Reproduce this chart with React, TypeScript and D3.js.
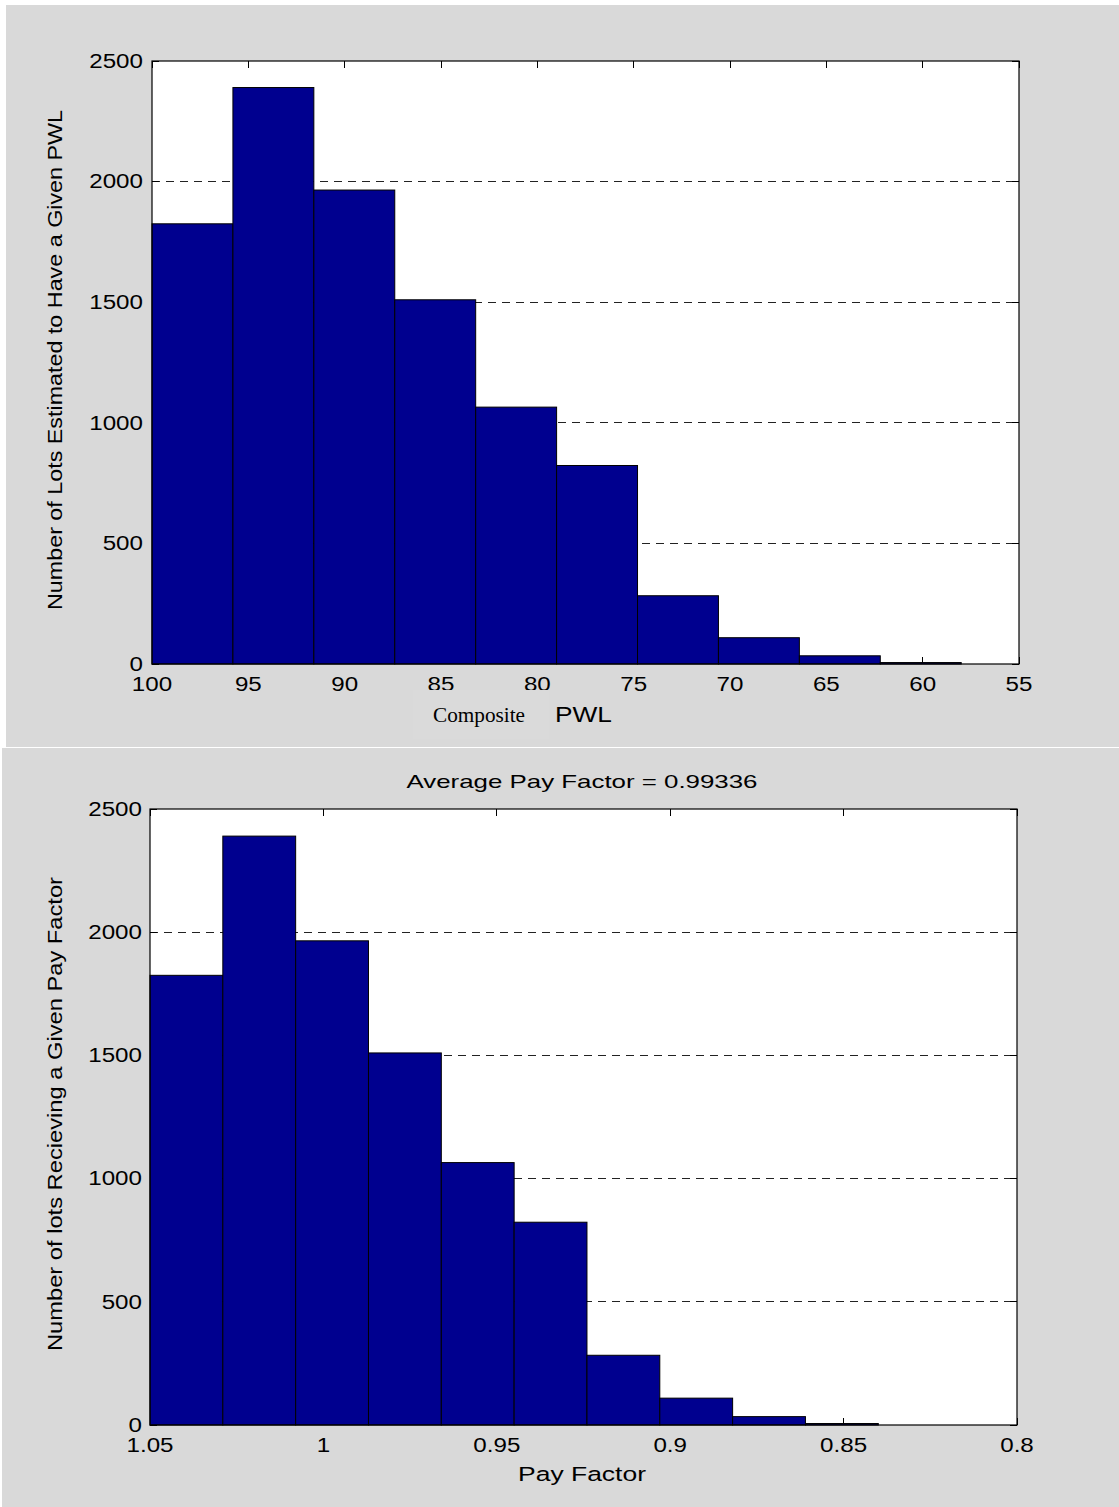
import React from "react";
import * as d3 from "d3";

// Histogram bin edges (left to right as drawn) and lot counts per bin
const pwlBinEdges = [100, 95.8, 91.6, 87.4, 83.2, 79.0, 74.8, 70.6, 66.4, 62.2, 58.0];
const payBinEdges = [1.05, 1.029, 1.008, 0.987, 0.966, 0.945, 0.924, 0.903, 0.882, 0.861, 0.84];
const lotCounts = [1825, 2390, 1965, 1510, 1065, 823, 283, 109, 34, 6];

// Axis ticks
const pwlTicks = [100, 95, 90, 85, 80, 75, 70, 65, 60, 55];
const payTicks = [1.05, 1, 0.95, 0.9, 0.85, 0.8];
const countTicks = [0, 500, 1000, 1500, 2000, 2500];

const SANS = "'Liberation Sans', Arial, Helvetica, sans-serif";
const SERIF = "'Liberation Serif', 'Times New Roman', serif";
const PANEL_GRAY = "#d9d9d9";
const BAR_BLUE = "#00008f";
const TICK_FS = 19.5;
const TICK_SX = 1.24;
const TICK_LEN = 7;

type Frame = { left: number; top: number; right: number; bottom: number };

function Histogram(props: {
  frame: Frame;
  xDomain: [number, number];
  xTicks: number[];
  edges: number[];
  counts: number[];
  yLabelOffset: number;
}) {
  const { frame, xDomain, xTicks, edges, counts, yLabelOffset } = props;
  const x = d3.scaleLinear().domain(xDomain).range([frame.left, frame.right]);
  const y = d3.scaleLinear().domain([0, 2500]).range([frame.bottom, frame.top]);

  return (
    <g>
      <rect
        x={frame.left}
        y={frame.top}
        width={frame.right - frame.left}
        height={frame.bottom - frame.top}
        fill="#ffffff"
      />
      {/* dashed horizontal grid */}
      {countTicks
        .filter((t) => t > 0 && t < 2500)
        .map((t) => (
          <line
            key={`g${t}`}
            x1={frame.left}
            x2={frame.right}
            y1={y(t)}
            y2={y(t)}
            stroke="#222"
            strokeWidth={1}
            strokeDasharray="8,6"
            shapeRendering="crispEdges"
          />
        ))}
      {/* inward tick marks on all four sides */}
      {xTicks.map((t) => (
        <g key={`xt${t}`} stroke="#000" strokeWidth={1} shapeRendering="crispEdges">
          <line x1={x(t)} x2={x(t)} y1={frame.bottom} y2={frame.bottom - TICK_LEN} />
          <line x1={x(t)} x2={x(t)} y1={frame.top} y2={frame.top + TICK_LEN} />
        </g>
      ))}
      {countTicks.map((t) => (
        <g key={`yt${t}`} stroke="#000" strokeWidth={1} shapeRendering="crispEdges">
          <line x1={frame.left} x2={frame.left + TICK_LEN} y1={y(t)} y2={y(t)} />
          <line x1={frame.right} x2={frame.right - TICK_LEN} y1={y(t)} y2={y(t)} />
        </g>
      ))}
      {/* bars */}
      {counts.map((c, i) => (
        <rect
          key={`b${i}`}
          x={x(edges[i])}
          y={y(c)}
          width={x(edges[i + 1]) - x(edges[i])}
          height={y(0) - y(c)}
          fill={BAR_BLUE}
          stroke="#000"
          strokeWidth={1}
        />
      ))}
      {/* axes box */}
      <rect
        x={frame.left}
        y={frame.top}
        width={frame.right - frame.left}
        height={frame.bottom - frame.top}
        fill="none"
        stroke="#000"
        strokeWidth={1.2}
      />
      {/* tick labels */}
      {xTicks.map((t) => (
        <text
          key={`xl${t}`}
          transform={`translate(${x(t)},${frame.bottom + 27}) scale(${TICK_SX},1)`}
          textAnchor="middle"
          fontFamily={SANS}
          fontSize={TICK_FS}
          fill="#000"
        >
          {String(t)}
        </text>
      ))}
      {countTicks.map((t) => (
        <text
          key={`yl${t}`}
          transform={`translate(${frame.left - yLabelOffset},${y(t)}) scale(${TICK_SX},1)`}
          textAnchor="end"
          dy="0.35em"
          fontFamily={SANS}
          fontSize={TICK_FS}
          fill="#000"
        >
          {String(t)}
        </text>
      ))}
    </g>
  );
}

export default function App() {
  const W = 1119;
  const H = 1507;
  const topFrame: Frame = { left: 152, top: 61, right: 1019, bottom: 664 };
  const botFrame: Frame = { left: 150, top: 809, right: 1017, bottom: 1425 };

  return (
    <svg
      width={W}
      height={H}
      viewBox={`0 0 ${W} ${H}`}
      style={{ position: "absolute", left: 0, top: 0, background: "#fff" }}
    >
      {/* figure panels */}
      <rect x={6} y={5} width={W - 6} height={742} fill={PANEL_GRAY} />
      <rect x={2} y={748} width={W - 2} height={H - 748} fill={PANEL_GRAY} />

      {/* Upper: PWL histogram */}
      <Histogram
        frame={topFrame}
        xDomain={[100, 55]}
        xTicks={pwlTicks}
        edges={pwlBinEdges}
        counts={lotCounts}
        yLabelOffset={9}
      />
      <text
        transform="translate(62,360) rotate(-90)"
        textAnchor="middle"
        fontFamily={SANS}
        fontSize={19.5}
        textLength={500}
        lengthAdjust="spacingAndGlyphs"
        fill="#000"
      >
        Number of Lots Estimated to Have a Given PWL
      </text>
      {/* label patch over the axis labels */}
      <rect x={413} y={690} width={136} height={49} fill="#dadada" />
      <text
        x={433}
        y={722}
        fontFamily={SERIF}
        fontSize={20.5}
        textLength={92}
        lengthAdjust="spacingAndGlyphs"
        fill="#000"
      >
        Composite
      </text>
      <text
        x={555}
        y={722}
        fontFamily={SANS}
        fontSize={22}
        textLength={57}
        lengthAdjust="spacingAndGlyphs"
        fill="#000"
      >
        PWL
      </text>

      {/* Lower: pay factor histogram */}
      <Histogram
        frame={botFrame}
        xDomain={[1.05, 0.8]}
        xTicks={payTicks}
        edges={payBinEdges}
        counts={lotCounts}
        yLabelOffset={8}
      />
      <text
        x={582}
        y={788}
        textAnchor="middle"
        fontFamily={SANS}
        fontSize={19}
        textLength={351}
        lengthAdjust="spacingAndGlyphs"
        fill="#000"
      >
        Average Pay Factor = 0.99336
      </text>
      <text
        x={582}
        y={1481}
        textAnchor="middle"
        fontFamily={SANS}
        fontSize={20.5}
        textLength={128}
        lengthAdjust="spacingAndGlyphs"
        fill="#000"
      >
        Pay Factor
      </text>
      <text
        transform="translate(62,1114) rotate(-90)"
        textAnchor="middle"
        fontFamily={SANS}
        fontSize={19.5}
        textLength={474}
        lengthAdjust="spacingAndGlyphs"
        fill="#000"
      >
        Number of lots Recieving a Given Pay Factor
      </text>
    </svg>
  );
}
